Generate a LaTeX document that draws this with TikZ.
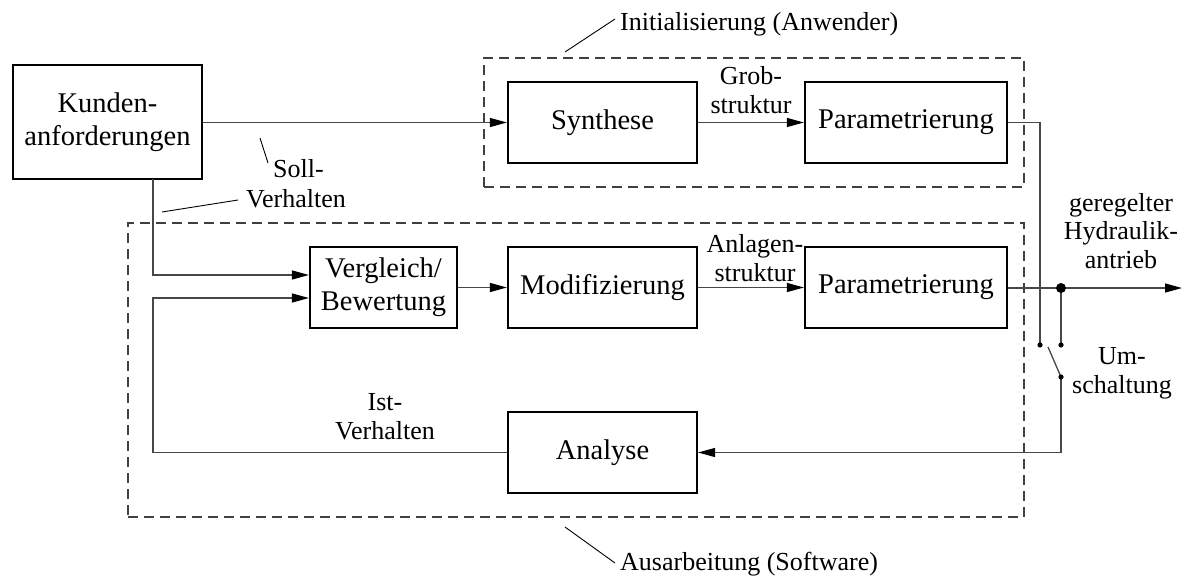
\documentclass[tikz,border=0pt]{standalone}
\usepackage{fontspec}
\setmainfont{Liberation Serif}
\usetikzlibrary{arrows.meta,calc}

\tikzset{
  blk/.style={draw=black, line width=2.2pt, inner sep=0pt, align=center,
    font=\fontsize{28.5}{33}\selectfont},
  frame/.style={draw=black!75, line width=1.2pt, dash pattern=on 10pt off 6pt,
    inner sep=0pt},
  conn/.style={draw=black!72, line width=1.3pt},
  tip/.style={-{Triangle[length=17pt,width=9pt,fill=black,color=black]}},
  leader/.style={draw=black, line width=0.9pt},
  lbl/.style={inner sep=0pt, align=center, font=\fontsize{26}{28.5}\selectfont},
}

\begin{document}
\begin{tikzpicture}[x=1pt, y=-1pt]
\useasboundingbox (0,0) rectangle (1184,581);

% dashed groups
\node[frame, minimum width=540pt, minimum height=129pt] (init) at (754,122.5) {};
\node[frame, minimum width=896pt, minimum height=294pt] (ausa) at (576,370) {};

% blocks
\node[blk, minimum width=189pt, minimum height=114pt] (kund) at (107.5,122) {Kunden-\\anforderungen};
\node[blk, minimum width=189pt, minimum height=81pt] (syn)  at (602.5,122.5) {Synthese};
\node[blk, minimum width=202pt, minimum height=81pt] (par1) at (906,122.5) {Parametrierung};
\node[blk, minimum width=147pt, minimum height=81pt] (ver)  at (383.5,287.5) {Vergleich/\\Bewertung};
\node[blk, minimum width=189pt, minimum height=81pt] (mod)  at (602.5,287.5) {Modifizierung};
\node[blk, minimum width=202pt, minimum height=81pt] (par2) at (906,287.5) {Parametrierung};
\node[blk, minimum width=189pt, minimum height=81pt] (ana)  at (602.5,452.5) {Analyse};

% labels (base anchor sits on the last line)
\node[lbl, anchor=base west] (linit) at (620,30) {Initialisierung (Anwender)};
\node[lbl, anchor=base west] (lausa) at (620,570) {Ausarbeitung (Software)};
\node[lbl, anchor=base] (lgrob) at (751,113) {Grob-\\struktur};
\node[lbl, anchor=base] (lanl) at (755,281) {Anlagen-\\struktur};
\node[lbl, anchor=base west] (lsoll) at (273,177) {Soll-};
\node[lbl, anchor=base west] (lsollv) at (246,207) {Verhalten};
\node[lbl, anchor=base] (list) at (385,439) {Ist-\\Verhalten};
\node[lbl, anchor=base] (lout) at (1121,268) {geregelter\\Hydraulik-\\antrieb};
\node[lbl, anchor=base] (lum) at (1122,393) {Um-\\schaltung};

% switch and junction points
\coordinate (jn)  at (1061,288);
\coordinate (out) at (1182,288);
\coordinate (swL) at (1040,345);
\coordinate (swR) at (1061,345);
\coordinate (swP) at (1061,377);
\coordinate (swB) at (1048,347);
\coordinate (kdown) at (153,179);
\coordinate (fb) at (153,452.5);

% signal flow
\draw[conn, tip] (kund.east |- syn.west) -- (syn.west);
\draw[conn, tip] (syn.east) -- (par1.west);
\draw[conn, tip] (ver.east) -- (mod.west);
\draw[conn, tip] (mod.east) -- (par2.west);
\draw[conn, tip] (par2.east |- jn) -- (out);
\draw[conn, tip] (kdown) |- ($(ver.west)+(0,-12.5)$);
\draw[conn, tip] (ana.west) -- (fb) |- ($(ver.west)+(0,10.5)$);
\draw[conn] (par1.east) -| (swL);
\draw[conn] (jn) -- (swR);
\draw[conn] (swP) -- (swB);
\draw[conn, tip] (swP) |- (ana.east);

\fill (jn) circle[radius=5pt];
\foreach \p in {swL,swR,swP} \fill (\p) circle[radius=2.6pt];

% leader lines
\draw[leader] (565,52) -- (615,19);
\draw[leader] (565,527) -- (615,563);
\draw[leader] (260,138) -- (268,163);
\draw[leader] (162,212) -- (238,200);
\end{tikzpicture}
\end{document}
